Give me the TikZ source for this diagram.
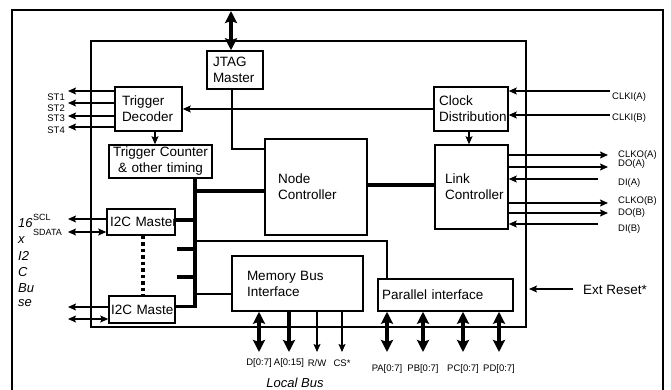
\documentclass[tikz,border=0pt]{standalone}
\usepackage{fontspec}
\setmainfont{Liberation Sans}
\usetikzlibrary{arrows.meta,calc}
\begin{document}
\begin{tikzpicture}[x=1pt,y=-1pt,
 box/.style={draw, line width=1.5pt, inner xsep=0pt, inner ysep=0pt, font=\fontsize{13.5}{16}\selectfont, align=left},
 ln/.style={line width=1.2pt},
 arr/.style={ln, -{Stealth[length=8pt,width=7pt,inset=1.5pt]}},
 dbl/.style={ln, {Stealth[length=8pt,width=7pt,inset=1.5pt]}-{Stealth[length=8pt,width=7pt,inset=1.5pt]}},
 bus/.style={line width=4pt},
 bigarr/.style={line width=4pt, -{Stealth[length=12pt,width=12pt,inset=2pt]}},
 bigdbl/.style={line width=4pt, {Stealth[length=12pt,width=12pt,inset=2pt]}-{Stealth[length=12pt,width=12pt,inset=2pt]}},
 lbl/.style={font=\fontsize{9.5}{10}\selectfont, inner sep=0pt},
 big/.style={font=\fontsize{13.5}{16}\selectfont, inner sep=0pt},
 ital/.style={font=\fontsize{13}{15}\selectfont\itshape, inner sep=0pt, anchor=west}
]
\useasboundingbox (0,0) rectangle (671,390);
\fill[white] (0,0) rectangle (671,390);
% frames
\draw[line width=1.6pt] (12,395) -- (12,10) -- (663,10) -- (663,395);
\draw[line width=1.4pt] (91,41) rectangle (526,327);

% boxes
\node[box, minimum width=56pt, minimum height=38pt, text width=44pt] (jtag) at (235,70) {JTAG\\Master};
\node[box, minimum width=67pt, minimum height=44pt, text width=53pt] (dec) at (148.5,109) {Trigger\\Decoder};
\node[box, minimum width=103pt, minimum height=33pt, text width=100pt, align=center] (cnt) at (160.5,161.5) {Trigger Counter\\\& other timing};
\node[box, minimum width=74pt, minimum height=44pt, text width=64pt] (clk) at (471,109) {Clock\\\mbox{Distribution}};
\node[box, minimum width=102pt, minimum height=96pt, text width=76pt] (nc) at (316,187) {Node\\Controller};
\node[box, minimum width=73pt, minimum height=84pt, text width=53pt] (lc) at (471.5,187) {Link\\\mbox{Controller}};
\node[box, minimum width=131pt, minimum height=55pt, text width=101pt] (mem) at (297.5,283.5) {Memory Bus\\Interface};
\node[box, minimum width=135pt, minimum height=32pt, text width=127pt] (par) at (445.5,295) {Parallel interface};
\node[box, minimum width=68pt, minimum height=26pt, text width=62pt] (ia) at (141,222) {\mbox{I2C Master}};
\node[box, minimum width=66pt, minimum height=27pt, text width=62pt] (ib) at (142,309.5) {\mbox{I2C Master}};

% top JTAG arrow
\coordinate (topend) at (231,11);
\draw[bigdbl] (topend) -- (jtag.north -| topend);

% ST outputs
\foreach \y/\ly/\t in {91/97/ST1, 103/108/ST2, 116/118/ST3, 127/130/ST4}{
  \coordinate (s\t) at (68,\y);
  \draw[arr] (dec.west |- s\t) -- (s\t);
  \node[lbl, anchor=east] at (65,\ly) {\t};
}
% decoder -> counter
\coordinate (dcx) at (155,0);
\draw[arr] (dec.south -| dcx) -- (cnt.north -| dcx);
% clock -> decoder
\draw[arr] (clk.west) -- (dec.east);
% jtag -> node controller
\coordinate (jc) at (232,149);
\draw[ln] (jtag.south -| jc) |- (nc.west |- jc);
% clock -> link
\coordinate (clx) at (469,0);
\draw[arr] (clk.south -| clx) -- (lc.north -| clx);
% node <-> link
\coordinate (nly) at (0,185);
\draw[bus] (nc.east |- nly) -- (lc.west |- nly);

% clock inputs
\coordinate (ca) at (610,91);
\coordinate (cb) at (610,115);
\draw[arr] (ca) -- (clk.east |- ca);
\draw[arr] (cb) -- (clk.east |- cb);
\node[lbl, anchor=west] at (612,97) {CLKI(A)};
\node[lbl, anchor=west] at (612,118) {CLKI(B)};

% link outputs
\coordinate (oa1) at (608,155);
\coordinate (oa2) at (608,167);
\coordinate (oa3) at (598,179);
\coordinate (ob1) at (608,203);
\coordinate (ob2) at (608,213);
\coordinate (ob3) at (598,224);
\draw[arr] (lc.east |- oa1) -- (oa1);
\draw[arr] (lc.east |- oa2) -- (oa2);
\draw[arr] (oa3) -- (lc.east |- oa3);
\draw[arr] (lc.east |- ob1) -- (ob1);
\draw[arr] (lc.east |- ob2) -- (ob2);
\draw[arr] (ob3) -- (lc.east |- ob3);
\node[lbl, anchor=west] at (618,155) {CLKO(A)};
\node[lbl, anchor=west] at (618,164) {DO(A)};
\node[lbl, anchor=west] at (618,183) {DI(A)};
\node[lbl, anchor=west] at (618,201) {CLKO(B)};
\node[lbl, anchor=west] at (618,213) {DO(B)};
\node[lbl, anchor=west] at (618,229) {DI(B)};

% ext reset
\coordinate (rs) at (573,289);
\coordinate (rt) at (529,289);
\draw[arr] (rs) -- (rt);
\node[big, anchor=west] at (583,290) {Ext Reset*};

% internal bus
\coordinate (bx) at (195,0);
\draw[bus] (cnt.south -| bx) -- (195,308);
\coordinate (by) at (0,191);
\draw[bus] (bx |- by) -- (nc.west |- by);
\draw[bus] (ia.east |- 0,220) -- (195,220);
\coordinate (st1) at (177,249);
\coordinate (st2) at (177,277);
\draw[bus] (st1) -- (bx |- st1);
\draw[bus] (st2) -- (bx |- st2);
\draw[line width=3pt] (ib.east |- 0,306) -- (196,306);
\coordinate (py) at (387,241);
\draw[ln] (bx |- py) -- (py) -- (par.north -| py);
\coordinate (my) at (0,294);
\draw[ln] (bx |- my) -- (mem.west |- my);
% dotted link between I2C masters
\coordinate (dx) at (143,0);
\draw[line width=3.5pt, dash pattern=on 3.5pt off 3pt] (ia.south -| dx) -- (ib.north -| dx);

% I2C bus arrows
\foreach \n/\ya/\yb in {ia/219/232, ib/307/319}{
  \coordinate (c\n) at (68,\ya);
  \coordinate (d\n) at (68,\yb);
  \draw[arr] (\n.west |- c\n) -- (c\n);
  \draw[dbl] (d\n) -- (\n.west |- d\n);
}
\node[ital] at (18,223) {16};
\node[lbl, font=\fontsize{9}{10}\selectfont, anchor=west] at (33,217) {SCL};
\node[lbl, font=\fontsize{9}{10}\selectfont, anchor=west] at (33,232) {SDATA};
\node[ital] at (18,240) {x};
\node[ital] at (18,256) {I2};
\node[ital] at (18,272) {C};
\node[ital] at (18,288) {Bu};
\node[ital] at (18,303) {se};

% local bus
\coordinate (bd) at (259,352);
\coordinate (ba) at (289,352);
\coordinate (br) at (317,352);
\coordinate (bc) at (342,352);
\draw[bigdbl] (mem.south -| bd) -- (bd);
\draw[bigarr] (mem.south -| ba) -- (ba);
\draw[arr] (mem.south -| br) -- (br);
\draw[arr] (mem.south -| bc) -- (bc);
\node[lbl] at (259,363) {D[0:7]};
\node[lbl] at (289,363) {A[0:15]};
\node[lbl] at (317,363) {R/W};
\node[lbl] at (342,363) {CS*};
\node[font=\fontsize{13}{15}\selectfont\itshape, inner sep=0pt] at (295,383) {Local Bus};

% parallel ports
\foreach \x/\t in {387/PA, 423/PB, 463/PC, 499/PD}{
  \coordinate (p\t) at (\x,352);
  \draw[bigdbl] (par.south -| p\t) -- (p\t);
  \node[lbl] at (\x,369) {\t[0:7]};
}
\end{tikzpicture}
\end{document}
